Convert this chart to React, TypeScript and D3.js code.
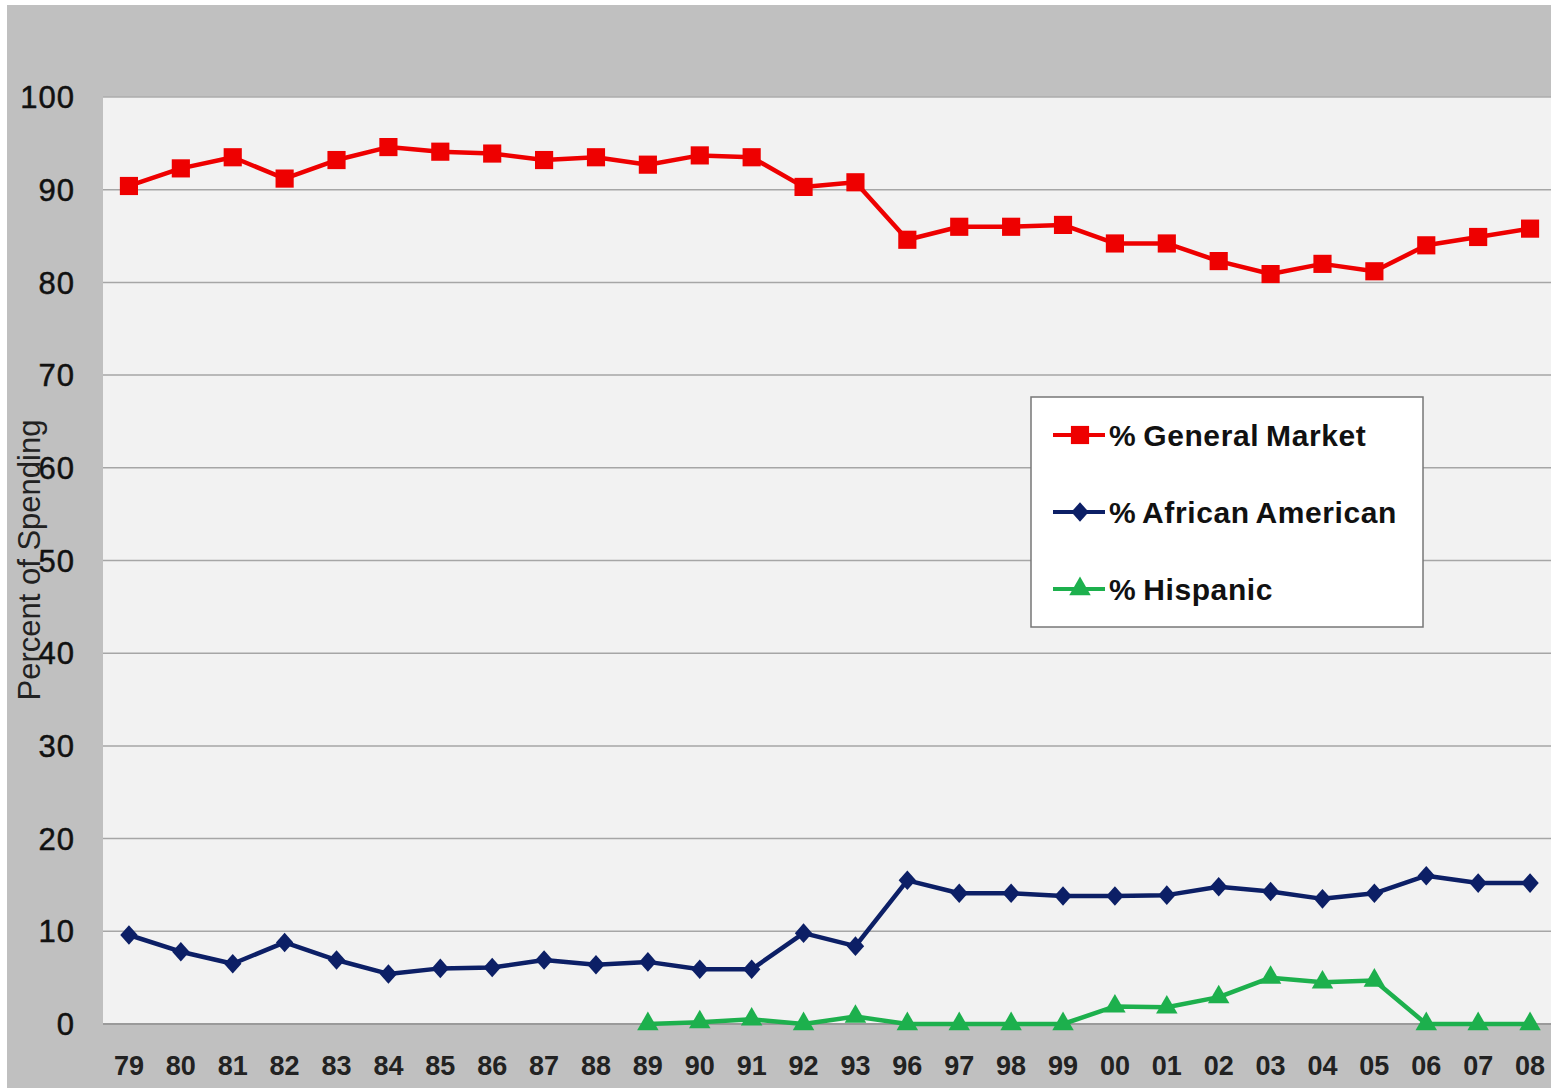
import { useEffect, useRef } from 'react';
import * as d3 from 'd3';

const years = [
    '79', '80', '81', '82', '83', '84', '85', '86', '87', '88', '89', '90', '91', '92',
    '93', '96', '97', '98', '99', '00', '01', '02', '03', '04', '05', '06', '07', '08',
];

const generalMarket = [
    90.4, 92.3, 93.5, 91.2, 93.2, 94.6, 94.1, 93.9, 93.2, 93.5, 92.7, 93.7, 93.5, 90.3,
    90.8, 84.6, 86.0, 86.0, 86.2, 84.2, 84.2, 82.3, 80.9, 82.0, 81.2, 84.0, 84.9, 85.8,
];

const africanAmerican = [
    9.6, 7.8, 6.5, 8.8, 6.9, 5.4, 6.0, 6.1, 6.9, 6.4, 6.7, 5.9, 5.9, 9.8,
    8.4, 15.5, 14.1, 14.1, 13.8, 13.8, 13.9, 14.8, 14.3, 13.5, 14.1, 16.0, 15.2, 15.2,
];

const hispanic: (number | null)[] = [
    null, null, null, null, null, null, null, null, null, null, 0, 0.2, 0.5, 0,
    0.8, 0, 0, 0, 0, 1.9, 1.8, 2.9, 5.0, 4.5, 4.7, 0, 0, 0,
];

const yTicks = [0, 10, 20, 30, 40, 50, 60, 70, 80, 90, 100];

const seriesNames = ['% General Market', '% African American', '% Hispanic'];

// wide rhombus like the spreadsheet marker
const rhombus: d3.SymbolType = {
    draw(ctx, size) {
        const h = Math.sqrt(size) * 0.72;
        const w = Math.sqrt(size) * 0.64;
        ctx.moveTo(0, -h);
        ctx.lineTo(w, 0);
        ctx.lineTo(0, h);
        ctx.lineTo(-w, 0);
        ctx.closePath();
    },
};

interface Series {
    name: string;
    values: (number | null)[];
    color: string;
    symbol: d3.SymbolType;
    size: number;
}

export default function App() {
    const svgRef = useRef<SVGSVGElement>(null);

    useEffect(() => {
        document.body.style.margin = '0';
        if (!svgRef.current) return;
        const svg = d3.select(svgRef.current);
        svg.selectAll('*').remove();

        const W = 1551;
        const H = 1088;
        const plot = { left: 103, right: 1556, top: 97, bottom: 1024 };
        const font = 'Arial, "Liberation Sans", sans-serif';

        // Outer chart area
        svg.append('rect').attr('width', W).attr('height', H).attr('fill', '#ffffff');
        svg.append('rect')
            .attr('x', 7)
            .attr('y', 5)
            .attr('width', W - 7)
            .attr('height', H - 5)
            .attr('fill', '#c0c0c0');

        const x = d3.scaleBand().domain(years).range([plot.left, plot.right]);
        const cx = (d: string) => (x(d) || 0) + x.bandwidth() / 2;
        const y = d3.scaleLinear().domain([0, 100]).range([plot.bottom, plot.top]);

        // Plot area
        svg.append('rect')
            .attr('x', plot.left)
            .attr('y', plot.top)
            .attr('width', plot.right - plot.left)
            .attr('height', plot.bottom - plot.top)
            .attr('fill', '#f2f2f2');
        svg.append('line')
            .attr('x1', plot.left)
            .attr('x2', plot.right)
            .attr('y1', plot.top)
            .attr('y2', plot.top)
            .attr('stroke', '#adadad')
            .attr('stroke-width', 1.5);

        // Grid lines
        svg.append('g')
            .selectAll('line')
            .data(yTicks.filter((t) => t > 0 && t < 100))
            .enter()
            .append('line')
            .attr('x1', plot.left)
            .attr('x2', plot.right)
            .attr('y1', (d) => y(d))
            .attr('y2', (d) => y(d))
            .attr('stroke', '#a6a6a6')
            .attr('stroke-width', 1.5);

        svg.append('line')
            .attr('x1', plot.left)
            .attr('x2', plot.right)
            .attr('y1', plot.bottom)
            .attr('y2', plot.bottom)
            .attr('stroke', '#9a9a9a')
            .attr('stroke-width', 2);

        // Y tick labels
        svg.append('g')
            .selectAll('text')
            .data(yTicks)
            .enter()
            .append('text')
            .attr('x', 75)
            .attr('y', (d) => y(d))
            .attr('dy', '0.36em')
            .attr('text-anchor', 'end')
            .attr('font-family', font)
            .attr('font-size', 31)
            .attr('letter-spacing', 1)
            .attr('fill', '#111')
            .attr('stroke', '#111')
            .attr('stroke-width', 0.5)
            .text((d) => d);

        // X tick labels
        svg.append('g')
            .selectAll('text')
            .data(years)
            .enter()
            .append('text')
            .attr('x', (d) => cx(d))
            .attr('y', 1075)
            .attr('text-anchor', 'middle')
            .attr('font-family', font)
            .attr('font-weight', 'bold')
            .attr('font-size', 27)
            .attr('fill', '#222')
            .text((d) => d);

        // Y axis title
        svg.append('text')
            .attr('transform', 'translate(40,560) rotate(-90)')
            .attr('text-anchor', 'middle')
            .attr('font-family', font)
            .attr('font-size', 31)
            .attr('fill', '#222')
            .text('Percent of Spending');

        const series: Series[] = [
            { name: seriesNames[0], values: generalMarket, color: '#ee0000', symbol: d3.symbolSquare, size: 330 },
            { name: seriesNames[1], values: africanAmerican, color: '#0c1f66', symbol: rhombus, size: 185 },
            { name: seriesNames[2], values: hispanic, color: '#1db04d', symbol: d3.symbolTriangle, size: 200 },
        ];

        const line = d3
            .line<number | null>()
            .defined((d) => d !== null)
            .x((_, i) => cx(years[i]))
            .y((d) => y(d as number));

        series.forEach((s) => {
            svg.append('path')
                .datum(s.values)
                .attr('fill', 'none')
                .attr('stroke', s.color)
                .attr('stroke-width', 4.5)
                .attr('stroke-linejoin', 'round')
                .attr('d', line);

            const sym = d3.symbol().type(s.symbol).size(s.size);
            svg.append('g')
                .selectAll('path')
                .data(s.values.map((v, i) => ({ v, year: years[i] })).filter((d) => d.v !== null))
                .enter()
                .append('path')
                .attr('transform', (d) => `translate(${cx(d.year)},${y(d.v as number)})`)
                .attr('d', sym)
                .attr('fill', s.color);
        });

        // Legend
        const legend = svg.append('g').attr('transform', 'translate(1031,397)');
        legend.append('rect')
            .attr('width', 392)
            .attr('height', 230)
            .attr('fill', '#ffffff')
            .attr('stroke', '#777')
            .attr('stroke-width', 1.5);

        series.forEach((s, i) => {
            const ly = 38 + i * 77;
            legend.append('line')
                .attr('x1', 22)
                .attr('x2', 74)
                .attr('y1', ly)
                .attr('y2', ly)
                .attr('stroke', s.color)
                .attr('stroke-width', 4);
            legend.append('path')
                .attr('transform', `translate(49,${ly})`)
                .attr('d', d3.symbol().type(s.symbol).size(s.size)())
                .attr('fill', s.color);
            legend.append('text')
                .attr('x', 78)
                .attr('y', ly)
                .attr('dy', '0.36em')
                .attr('font-family', font)
                .attr('font-weight', 'bold')
                .attr('font-size', 30)
                .attr('letter-spacing', 0.6)
                .attr('word-spacing', -2)
                .attr('fill', '#111')
                .text(s.name);
        });
    }, []);

    return <svg ref={svgRef} width={1551} height={1088} style={{ display: 'block' }} />;
}
